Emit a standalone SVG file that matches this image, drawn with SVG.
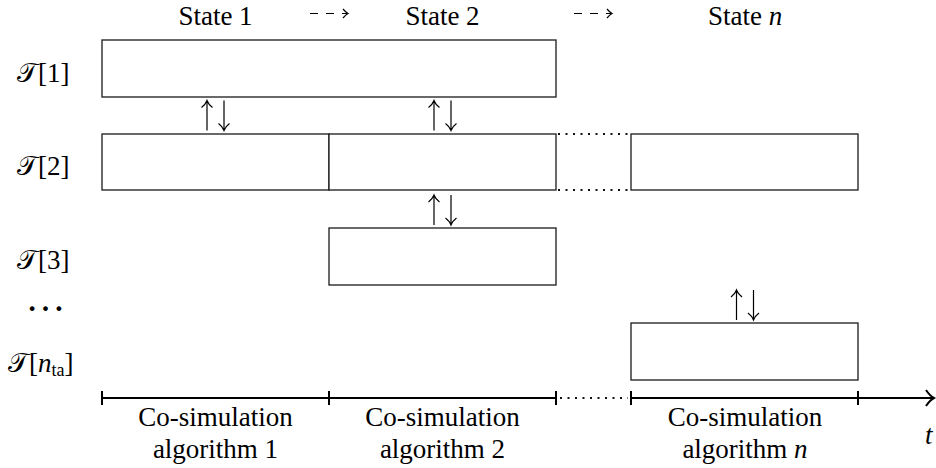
<svg xmlns="http://www.w3.org/2000/svg" width="936" height="468" viewBox="0 0 936 468">
  <style>
    .box { fill: #ffffff; stroke: #1a1a1a; stroke-width: 1.3; }
    .lbl { font-family: "Liberation Serif", "DejaVu Serif", serif; font-size: 27px; fill: #000; }
    .it { font-style: italic; }
    .sub { font-size: 18px; }
    .thin { fill: none; stroke: #000; stroke-width: 1.2; }
    .dash { fill: none; stroke: #000; stroke-width: 1.2; stroke-dasharray: 8 8; }
    .dots { fill: none; stroke: #111; stroke-width: 2; stroke-dasharray: 2 5.5; }
    .axis { fill: none; stroke: #000; stroke-width: 2; }
  </style>
  <defs>
    <!-- exchange symbol: up arrow beside down arrow -->
    <symbol id="updown" overflow="visible">
      <path class="thin" d="M-8.5,15 V-15 M-14,-8 Q-10,-11 -8.5,-15 Q-7,-11 -3,-8"/>
      <path class="thin" d="M8.5,-15 V15 M3,8 Q7,11 8.5,15 Q10,11 14,8"/>
    </symbol>
  </defs>

  <!-- state headings -->
  <g id="state-1"><text class="lbl" x="215.5" y="25" text-anchor="middle">State 1</text></g>
  <g id="state-2"><text class="lbl" x="442.5" y="25" text-anchor="middle">State 2</text></g>
  <g id="state-n"><text class="lbl" x="745" y="25" text-anchor="middle">State <tspan class="it">n</tspan></text></g>

  <!-- row labels -->
  <g id="label-t1"><text class="lbl" x="17" y="82">𝒯[1]</text></g>
  <g id="label-t2"><text class="lbl" x="17" y="175">𝒯[2]</text></g>
  <g id="label-t3"><text class="lbl" x="17" y="269">𝒯[3]</text></g>
  <g id="label-dots"><text class="lbl" x="45.5" y="311" text-anchor="middle" style="font-size:40px">…</text></g>
  <g id="label-tn"><text class="lbl" x="8" y="372">𝒯[<tspan class="it">n</tspan><tspan class="sub" dy="4">ta</tspan><tspan dy="-4">]</tspan></text></g>

  <!-- task boxes -->
  <g id="t1"><rect class="box" x="102" y="40" width="454" height="57"/></g>
  <g id="t2-a"><rect class="box" x="102" y="134" width="227" height="56"/></g>
  <g id="t2-b"><rect class="box" x="329" y="134" width="227" height="56"/></g>
  <g id="t2-n"><rect class="box" x="631" y="134" width="227" height="56"/></g>
  <g id="t3"><rect class="box" x="329" y="228" width="227" height="57"/></g>
  <g id="tn"><rect class="box" x="631" y="323" width="227" height="57"/></g>

  <!-- axis labels -->
  <g id="algo-1"><text class="lbl" x="215.5" y="426" text-anchor="middle">Co-simulation</text><text class="lbl" x="215.5" y="458" text-anchor="middle">algorithm 1</text></g>
  <g id="algo-2"><text class="lbl" x="442.5" y="426" text-anchor="middle">Co-simulation</text><text class="lbl" x="442.5" y="458" text-anchor="middle">algorithm 2</text></g>
  <g id="algo-n"><text class="lbl" x="745" y="426" text-anchor="middle">Co-simulation</text><text class="lbl" x="745" y="458" text-anchor="middle">algorithm <tspan class="it">n</tspan></text></g>
  <g id="time"><text class="lbl it" x="925" y="444">t</text></g>

  <g id="connectors">
    <!-- dashed state transitions -->
    <path class="dash" d="M310,13.5 H347"/>
    <path class="thin" d="M343,9 Q346,12.5 348,13.5 Q346,14.5 343,18"/>
    <path class="dash" d="M574,13.5 H611"/>
    <path class="thin" d="M607,9 Q610,12.5 612,13.5 Q610,14.5 607,18"/>

    <!-- data exchange between tasks -->
    <use href="#updown" x="215.5" y="115.5"/>
    <use href="#updown" x="442.5" y="115.5"/>
    <use href="#updown" x="442.5" y="210"/>
    <use href="#updown" x="745" y="305"/>

    <!-- elided states in row 2 -->
    <path class="dots" d="M558,134 H630 M558,190 H630"/>

    <!-- time axis -->
    <path class="axis" d="M102,398 H556 M631,398 H933"/>
    <path class="axis" d="M926,390 Q930,396 934,398 Q930,400 926,406"/>
    <path class="axis" d="M102,391 V405 M329,391 V405 M556,391 V405 M631,391 V405 M858,391 V405"/>
    <path class="dots" d="M560,398 H628"/>
  </g>
</svg>
